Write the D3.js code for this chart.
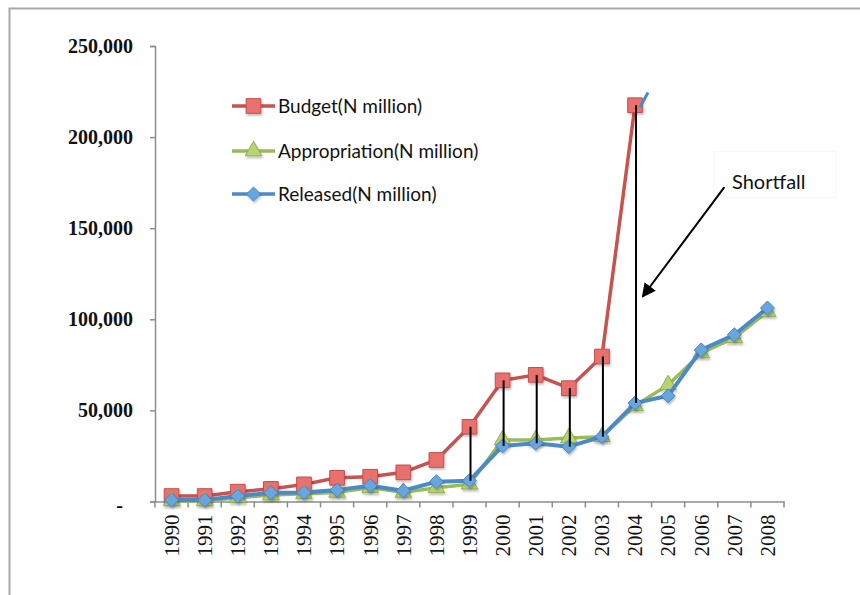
<!DOCTYPE html>
<html>
<head>
<meta charset="utf-8">
<script src="https://cdn.jsdelivr.net/npm/d3@7"></script>
<style>
  body { margin: 0; background: #fff; }
  svg { display: block; }
</style>
</head>
<body>
<script>
// values (N million)
const years = ["1990", "1991", "1992", "1993", "1994", "1995", "1996", "1997", "1998", "1999",
  "2000", "2001", "2002", "2003", "2004", "2005", "2006", "2007", "2008"]
const budget = [3000, 3000, 5400, 6900, 9400, 13000, 13600, 16000, 22800, 41000,
  66500, 69500, 62200, 79600, 217500]
const appropriation = [300, 300, 2000, 3500, 4200, 5000, 7500, 5000, 7500, 9500,
  33800, 33800, 34900, 35500, 52500, 64000, 81500, 89800, 104300]
const released = [800, 800, 3000, 4800, 4900, 6300, 8700, 5900, 10900, 11400,
  30500, 32000, 30100, 35600, 54000, 58000, 83200, 91500, 106200]
const yTicks = [0, 50000, 100000, 150000, 200000, 250000]
const shortfallYears = ["1999", "2000", "2001", "2002", "2003", "2004"]
const seriesNames = ["Budget(N million)", "Appropriation(N million)", "Released(N million)"]

const w = 860
const h = 595
const colors = {
  budget: { line: "#c9524f", fill: "#e8716e", stroke: "#c0504d" },
  appr: { line: "#9bbb59", fill: "#b7d46f", stroke: "#8fae4f" },
  rel: { line: "#4a8ac7", fill: "#6aa6de", stroke: "#4a82bf" }
}

const svg = d3.select("body")
  .append("svg")
  .attr("width", w)
  .attr("height", h)

svg.append("rect")
  .attr("width", w)
  .attr("height", h)
  .attr("fill", "#fff")

// outer chart frame (only top and left edges are visible)
svg.append("rect")
  .attr("x", 9.5)
  .attr("y", 8.5)
  .attr("width", 1000)
  .attr("height", 800)
  .attr("fill", "none")
  .attr("stroke", "#a8a8a8")
  .attr("stroke-width", 2)

const defs = svg.append("defs")
defs.append("filter")
  .attr("id", "shadow")
  .attr("x", "-50%").attr("y", "-50%")
  .attr("width", "200%").attr("height", "200%")
  .append("feDropShadow")
  .attr("dx", 1).attr("dy", 2)
  .attr("stdDeviation", 1.2)
  .attr("flood-color", "#000")
  .attr("flood-opacity", 0.25)

const xScale = d3.scaleBand()
  .domain(years)
  .range([155, 784])
  .padding(0)
const cx = (d) => xScale(d) + xScale.bandwidth() / 2

const yScale = d3.scaleLinear()
  .domain([0, 250000])
  .range([501.5, 46])

// y axis
const yAxis = d3.axisLeft(yScale)
  .tickValues(yTicks)
  .tickSize(5)
  .tickPadding(17)
  .tickFormat((d) => d === 0 ? "-" : d3.format(",")(d))
const gy = svg.append("g")
  .attr("transform", "translate(155,0)")
  .call(yAxis)
gy.select(".domain").attr("stroke", "#8c8c8c").attr("stroke-width", 1.5)
gy.selectAll(".tick line").attr("stroke", "#8c8c8c").attr("stroke-width", 1.5)
gy.selectAll(".tick text")
  .attr("fill", "#111")
  .style("font-family", "'Liberation Serif', 'Times New Roman', serif")
  .style("font-weight", "bold")
  .style("font-size", "20px")
gy.selectAll(".tick text").filter((d) => d === 0)
  .attr("dx", -10)
  .attr("dy", "0.5em")

// x axis, ticks sit between categories
const xAxis = d3.axisBottom(xScale)
  .tickSize(0)
  .tickSizeOuter(0)
  .tickFormat("")
const gx = svg.append("g")
  .attr("transform", "translate(0," + yScale(0) + ")")
  .call(xAxis)
gx.select(".domain").attr("stroke", "#8c8c8c").attr("stroke-width", 1.5)

const edges = years.map((d) => xScale(d)).concat([xScale.range()[1]])
gx.selectAll(".edge")
  .data(edges)
  .enter()
  .append("line")
  .attr("class", "edge")
  .attr("x1", (d) => d)
  .attr("x2", (d) => d)
  .attr("y1", 0)
  .attr("y2", 6)
  .attr("stroke", "#8c8c8c")
  .attr("stroke-width", 1.5)

svg.append("g")
  .selectAll("text")
  .data(years)
  .enter()
  .append("text")
  .attr("transform", (d) => "translate(" + cx(d) + "," + (yScale(0) + 13) + ") rotate(-90)")
  .attr("text-anchor", "end")
  .attr("dy", "0.35em")
  .attr("fill", "#111")
  .style("font-family", "'Liberation Serif', 'Times New Roman', serif")
  .style("font-size", "21px")
  .text((d) => d)

// markers
const square = d3.symbol().type(d3.symbolSquare).size(215)
const triangle = d3.symbol().type(d3.symbolTriangle).size(120)
const diamond = d3.symbol().type(d3.symbolDiamond2 || d3.symbolDiamond).size(125)

const drawSeries = function (values, c, symbol, lineWidth) {
  const pts = values.map((v, i) => ({ year: years[i], value: v }))
  const line = d3.line()
    .x((d) => cx(d.year))
    .y((d) => yScale(d.value))
  const g = svg.append("g")
  g.append("path")
    .datum(pts)
    .attr("d", line)
    .attr("fill", "none")
    .attr("stroke", c.line)
    .attr("stroke-width", lineWidth)
    .attr("stroke-linejoin", "round")
  g.selectAll("path.mark")
    .data(pts)
    .enter()
    .append("path")
    .attr("class", "mark")
    .attr("d", symbol)
    .attr("transform", (d) => "translate(" + cx(d.year) + "," + yScale(d.value) + ")")
    .attr("fill", c.fill)
    .attr("stroke", c.stroke)
    .attr("stroke-width", 1)
    .attr("filter", "url(#shadow)")
}

drawSeries(budget, colors.budget, square, 3.5)
drawSeries(appropriation, colors.appr, triangle, 3.5)
drawSeries(released, colors.rel, diamond, 4)

// small blue stroke leaving the 2004 budget point
svg.append("line")
  .attr("x1", cx("2004") + 5)
  .attr("y1", yScale(216500))
  .attr("x2", cx("2004") + 13)
  .attr("y2", yScale(224500))
  .attr("stroke", colors.rel.line)
  .attr("stroke-width", 3)

// shortfall drop lines from budget down to released
svg.append("g")
  .selectAll("line")
  .data(shortfallYears)
  .enter()
  .append("line")
  .attr("x1", (d) => cx(d) + 1)
  .attr("x2", (d) => cx(d) + 1)
  .attr("y1", (d) => yScale(budget[years.indexOf(d)]))
  .attr("y2", (d) => yScale(released[years.indexOf(d)]))
  .attr("stroke", "#000")
  .attr("stroke-width", 2)

// Shortfall annotation
const bw = xScale.bandwidth()
svg.append("rect")
  .attr("x", xScale("2007") - 4)
  .attr("y", yScale(192000))
  .attr("width", 122)
  .attr("height", 46)
  .attr("fill", "#fff")
  .attr("stroke", "#f7f7f7")
  .attr("stroke-width", 1)

defs.append("marker")
  .attr("id", "arrow")
  .attr("viewBox", "0 0 10 10")
  .attr("refX", 9)
  .attr("refY", 5)
  .attr("markerWidth", 7)
  .attr("markerHeight", 7)
  .attr("markerUnits", "strokeWidth")
  .attr("orient", "auto")
  .append("path")
  .attr("d", "M0,0 L10,5 L0,10 Z")
  .attr("fill", "#000")

svg.append("line")
  .attr("x1", xScale("2007") + bw * 0.2)
  .attr("y1", yScale(172500))
  .attr("x2", xScale("2004") + bw * 0.73)
  .attr("y2", yScale(112500))
  .attr("stroke", "#000")
  .attr("stroke-width", 2)
  .attr("marker-end", "url(#arrow)")

svg.append("text")
  .attr("x", xScale("2007") + bw * 0.43)
  .attr("y", yScale(171500))
  .attr("fill", "#111")
  .style("font-family", "Lato, 'Open Sans', sans-serif")
  .style("font-size", "20px")
  .text("Shortfall")

// legend
const legendRows = [
  { name: seriesNames[0], c: colors.budget, symbol: square },
  { name: seriesNames[1], c: colors.appr, symbol: triangle },
  { name: seriesNames[2], c: colors.rel, symbol: diamond }
]
const legend = svg.append("g")
  .attr("transform", "translate(232,106)")
const rows = legend.selectAll("g")
  .data(legendRows)
  .enter()
  .append("g")
  .attr("transform", (d, i) => "translate(0," + [0, 45, 88][i] + ")")
rows.append("line")
  .attr("x1", 0)
  .attr("x2", 43)
  .attr("stroke", (d) => d.c.line)
  .attr("stroke-width", 3.5)
rows.append("path")
  .attr("d", (d) => d.symbol())
  .attr("transform", "translate(21.5,0)")
  .attr("fill", (d) => d.c.fill)
  .attr("stroke", (d) => d.c.stroke)
  .attr("filter", "url(#shadow)")
rows.append("text")
  .attr("x", 46)
  .attr("dy", "0.35em")
  .attr("fill", "#111")
  .style("font-family", "Lato, 'Open Sans', sans-serif")
  .style("font-size", "19px")
  .text((d) => d.name)
</script>
</body>
</html>
